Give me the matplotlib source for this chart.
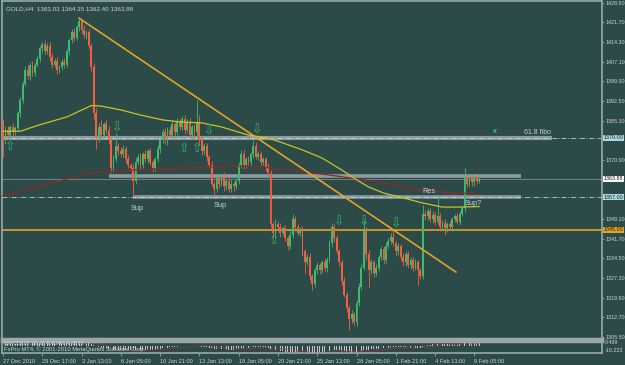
import numpy as np
import matplotlib
matplotlib.use('agg')
from matplotlib import pyplot as plt
from matplotlib.transforms import blended_transform_factory

# GOLD,H4 candles (27 Dec 2010 .. 9 Feb 2011)
first_open = 1385.0
closes = [
    1378, 1382, 1380, 1383, 1381, 1382.5, 1388, 1393, 1399, 1404,
    1402, 1406, 1403, 1406, 1408, 1412, 1413.5, 1411, 1413, 1409,
    1406, 1407.5, 1404, 1405, 1407, 1406, 1411, 1415, 1418, 1416,
    1420, 1422, 1419, 1417, 1418, 1413, 1405, 1388, 1379, 1383,
    1380, 1384, 1382, 1378, 1368, 1371, 1376, 1374, 1373, 1375,
    1371, 1369, 1368, 1363, 1370, 1372, 1369, 1373, 1371, 1374,
    1370, 1368, 1371, 1375, 1378, 1381, 1378, 1382, 1380, 1384,
    1381, 1385, 1383, 1386, 1382, 1385, 1380, 1383, 1381, 1385,
    1378, 1374, 1376, 1372, 1369, 1362, 1360, 1364, 1362, 1365,
    1361, 1363, 1360, 1362, 1361, 1363, 1369, 1373, 1369, 1371,
    1370, 1373, 1376, 1372, 1373, 1370, 1371, 1368, 1366, 1347,
    1344, 1347, 1346, 1344, 1345.5, 1342, 1339, 1343, 1349, 1346,
    1344, 1345, 1337, 1333, 1335, 1328, 1325, 1330, 1332, 1330,
    1333, 1331, 1334, 1340, 1346, 1342, 1337, 1333, 1326, 1321,
    1316, 1312, 1314, 1311, 1318, 1324, 1331, 1345, 1336, 1330,
    1333, 1329, 1331, 1335, 1338, 1334, 1339, 1341, 1342.5, 1340,
    1337, 1339, 1335, 1333, 1336, 1332, 1334, 1331, 1333, 1330,
    1328, 1351, 1350, 1352, 1349, 1350.5, 1348, 1350, 1346, 1347.5,
    1345.5, 1347, 1346, 1349, 1350, 1348, 1351, 1353, 1364, 1362,
    1364.5, 1362.5, 1364, 1363.03, 1363.88]
upper_wick = [
    1.0, 1.5, 1.2, 0.8, 1.5, 1.0, 0.8, 1.2, 1.0, 1.5,
    2.0, 1.0, 1.5, 0.8, 1.2, 1.0, 0.8, 1.5, 1.0, 1.2,
    1.5, 1.0, 1.2, 0.8, 1.0, 1.5, 0.8, 1.0, 1.2, 1.5,
    0.8, 1.2, 1.0, 1.5, 0.8, 1.2, 1.0, 1.5, 2.0, 1.5,
    2.5, 1.0, 1.5, 1.2, 1.0, 1.5, 4.8, 1.0, 1.5, 1.2,
    1.0, 1.5, 0.8, 1.2, 1.5, 1.0, 1.2, 0.8, 1.5, 1.0,
    1.2, 0.8, 1.0, 1.5, 0.8, 1.2, 1.5, 1.0, 1.2, 1.5,
    1.0, 1.2, 0.8, 1.0, 1.5, 1.0, 1.2, 0.8, 1.0, 8.0,
    2.5, 1.5, 1.0, 1.2, 0.8, 1.5, 1.0, 1.2, 0.8, 1.0,
    1.2, 0.8, 1.0, 1.5, 0.8, 1.0, 1.2, 1.5, 2.0, 1.0,
    1.2, 0.8, 2.0, 1.5, 1.0, 1.2, 0.8, 1.0, 1.5, 1.0,
    1.0, 2.0, 1.2, 1.5, 1.0, 1.2, 0.8, 1.5, 2.0, 1.0,
    1.2, 1.0, 1.5, 1.0, 1.2, 1.5, 0.8, 1.0, 1.2, 0.8,
    1.0, 1.5, 1.0, 1.2, 1.5, 1.0, 1.2, 0.8, 1.0, 1.5,
    1.0, 1.2, 1.5, 0.8, 1.0, 1.2, 1.5, 3.6, 1.0, 1.5,
    1.2, 1.0, 1.5, 0.8, 1.2, 1.0, 1.5, 1.0, 1.2, 2.5,
    1.0, 1.2, 0.8, 1.5, 1.0, 1.2, 0.8, 1.0, 1.2, 1.0,
    1.0, 3.0, 1.5, 1.2, 1.0, 1.5, 1.0, 7.0, 1.2, 1.0,
    1.5, 1.0, 1.2, 0.8, 1.0, 1.2, 0.8, 1.0, 4.0, 1.5,
    1.0, 1.2, 0.8, 1.0, 0.47]
lower_wick = [
    6.0, 1.2, 1.5, 1.0, 1.2, 0.8, 1.0, 1.5, 1.2, 1.0,
    1.2, 1.5, 1.0, 1.2, 0.8, 1.0, 1.5, 1.2, 1.0, 1.5,
    1.2, 1.0, 1.5, 1.2, 0.8, 1.2, 1.0, 1.5, 1.0, 1.2,
    1.0, 1.5, 1.2, 1.0, 1.5, 1.2, 1.5, 2.0, 4.0, 1.5,
    1.2, 1.0, 1.5, 1.2, 2.0, 1.5, 1.0, 1.5, 1.2, 1.0,
    1.5, 1.2, 1.0, 6.0, 1.2, 1.0, 1.5, 1.2, 1.0, 1.5,
    1.0, 1.5, 1.2, 1.0, 1.5, 1.0, 1.2, 1.5, 1.0, 1.2,
    1.5, 1.0, 1.2, 1.0, 1.5, 1.0, 1.2, 1.5, 2.0, 2.5,
    1.5, 1.2, 1.0, 1.5, 1.2, 1.0, 3.0, 1.2, 1.5, 1.0,
    1.5, 1.2, 1.0, 1.2, 1.5, 1.0, 1.2, 1.0, 1.5, 1.2,
    1.0, 1.2, 1.5, 1.0, 1.2, 1.5, 1.0, 1.2, 1.0, 1.5,
    1.5, 1.0, 1.2, 1.5, 1.0, 1.2, 1.5, 1.0, 1.2, 1.5,
    1.0, 1.2, 1.5, 4.0, 1.0, 1.5, 2.2, 1.0, 1.2, 1.5,
    1.0, 1.2, 1.5, 1.0, 1.2, 1.5, 1.0, 1.2, 1.5, 1.0,
    1.5, 4.0, 1.5, 1.2, 1.5, 1.0, 1.2, 1.0, 2.0, 6.0,
    1.2, 1.5, 1.0, 1.2, 1.0, 1.5, 1.2, 1.0, 1.2, 1.0,
    1.5, 1.2, 1.0, 1.5, 1.2, 1.0, 1.5, 1.2, 1.0, 5.4,
    1.2, 1.0, 1.5, 1.2, 1.0, 1.5, 1.2, 1.0, 1.5, 1.0,
    2.5, 1.2, 1.0, 1.5, 1.2, 1.0, 1.2, 1.0, 1.5, 1.2,
    1.0, 1.5, 1.2, 1.0, 0.63]

# moving averages (bar index, price) read at points along the lines
ma_fast_bars = [-1, 7, 15, 26, 36, 40, 48, 56, 65, 73, 81, 89, 100, 108, 114,
                122, 130, 138, 144, 149, 155, 163, 171, 179, 187, 194]
ma_fast = [1381.4, 1381.4, 1383.8, 1386.7, 1390.9, 1390.7, 1389.3, 1387.4,
           1385.6, 1384.8, 1384.5, 1383.0, 1380.0, 1378.9, 1377.1, 1374.5,
           1371.5, 1367.1, 1363.5, 1360.8, 1358.6, 1356.8, 1354.9, 1353.4,
           1353.4, 1353.6]
ma_slow_bars = [-1, 12, 26, 36, 44, 53, 74, 93, 105, 117, 130, 142, 154,
                168, 181, 194]
ma_slow = [1357.4, 1360.2, 1363.8, 1366.2, 1366.5, 1367.1, 1367.8, 1368.6,
           1368.2, 1367.1, 1365.6, 1364.1, 1362.5, 1359.9, 1358.8, 1358.2]

# MACD(12,26,9) sub-window
macd_hist = [
    4.5, 4.2, 4.0, 4.1, 3.9, 3.8, 4.3, 5.0, 5.9, 6.8,
    7.2, 7.8, 7.9, 8.1, 8.3, 8.4, 8.4, 8.1, 8.0, 7.6,
    7.0, 6.7, 6.1, 5.7, 5.5, 5.2, 5.4, 5.9, 6.4, 6.5,
    6.9, 7.2, 7.0, 6.6, 6.4, 5.7, 4.5, 2.3, 0.2, -0.9,
    -1.9, -2.3, -2.8, -3.4, -4.5, -5.0, -4.9, -5.0, -5.1, -5.0,
    -5.2, -5.4, -5.6, -6.2, -6.0, -5.7, -5.6, -5.3, -5.1, -4.8,
    -4.8, -4.9, -4.6, -4.1, -3.5, -2.8, -2.4, -1.8, -1.4, -0.8,
    -0.6, -0.1, 0.1, 0.3, 0.6, 0.9, 0.8, 0.9, 0.8, 1.0,
    0.6, -0.1, -0.4, -1.0, -1.7, -2.6, -3.4, -3.7, -4.1, -4.3,
    -4.6, -4.6, -4.9, -4.8, -4.9, -4.7, -4.1, -3.3, -3.1, -2.7,
    -2.5, -2.0, -1.4, -1.4, -1.2, -1.3, -1.2, -1.5, -1.9, -3.6,
    -5.1, -5.9, -6.6, -7.3, -7.6, -8.1, -8.6, -8.6, -8.1, -8.0,
    -8.0, -7.8, -8.4, -9.1, -9.3, -9.9, -10.1, -10.0, -9.7, -9.5,
    -9.1, -8.9, -8.4, -7.4, -6.1, -5.6, -5.6, -5.8, -6.5, -7.3,
    -8.3, -9.3, -9.8, -10.2, -9.9, -9.1, -7.8, -5.6, -5.0, -4.9,
    -4.6, -4.6, -4.3, -3.8, -3.2, -3.1, -2.5, -1.9, -1.4, -1.3,
    -1.3, -1.1, -1.3, -1.6, -1.6, -1.9, -1.9, -2.2, -2.2, -2.5,
    -2.8, -0.9, 0.5, 1.8, 2.5, 3.2, 3.4, 3.8, 3.7, 3.7,
    3.4, 3.4, 3.2, 3.3, 3.4, 3.3, 3.5, 3.8, 5.0, 5.6,
    6.2, 6.5, 6.7, 6.8, 6.7]
signal_bars = [0, 10, 20, 30, 40, 45, 50, 55, 65, 75, 82, 90, 100, 108, 115,
               122, 130, 138, 145, 152, 160, 170, 178, 186, 194]
signal = [5.0, 5.6, 7.8, 6.0, 3.8, 0.5, -3.0, -5.0, -5.0, -1.2, 0.5, -2.5,
          -4.0, -1.6, -4.5, -7.8, -9.5, -7.2, -8.5, -6.5, -2.8, -1.9, 1.5,
          3.4, 4.35]

# drawn objects
trend_bars = [31, 184.5]
trend_prices = [1423.2, 1329.4]
fractal_up = [(3, 1375.6), (74, 1375.2), (79, 1375.2), (110.5, 1341.2)]
fractal_down = [(46.5, 1382.4), (84, 1381.4), (103.5, 1382.0), (137, 1347.7),
                (147, 1347.7), (160, 1347.0)]
notes = [('Sup', 54.6, 1353.0), ('Sup', 88.4, 1353.8), ('Res', 173.5, 1359.0),
         ('Sup?', 191.5, 1354.9)]

price_ticks = [1428.9, 1421.7, 1414.3, 1407.1, 1399.9, 1392.5, 1385.3, 1370.9,
               1349.1, 1341.7, 1334.5, 1327.3, 1319.9, 1312.7, 1305.5]
time_labels = ['27 Dec 2010', '29 Dec 17:00', '3 Jan 13:00', '6 Jan 05:00',
               '10 Jan 21:00', '13 Jan 13:00', '18 Jan 05:00', '20 Jan 21:00',
               '25 Jan 13:00', '28 Jan 05:00', '1 Feb 21:00', '4 Feb 13:00',
               '9 Feb 05:00']

BG = '#2c4a48'
FRAME = '#9aa8aa'
TXT = '#cdd5d5'
BULL = '#3dbb6e'
BEAR = '#f2603f'
ORANGE = '#e3a326'
BAND = '#8c9ba0'

plt.rcParams['font.family'] = ['Liberation Sans', 'DejaVu Sans']
fig = plt.figure(figsize=(6.25, 3.65), dpi=100, facecolor=BG)
ax = fig.add_axes([0.0032, 1 - 339 / 365, 0.96, 338 / 365])
axm = fig.add_axes([0.0032, 1 - 353 / 365, 0.96, 12 / 365])
for a in (ax, axm):
    a.set_facecolor(BG)
    for s in a.spines.values():
        s.set_color(FRAME)
        s.set_linewidth(1.2)
ax.spines['bottom'].set_linewidth(2.5)
axm.spines['top'].set_linewidth(2.5)

x_lo, x_hi = -0.4, 244.0
ax.set_xlim(x_lo, x_hi)
ax.set_ylim(1304.66, 1429.53)
axm.set_xlim(x_lo, x_hi)
axm.set_ylim(-10.223, 8.489)

# candles
c = np.array(closes)
o = np.array([first_open] + closes[:-1])
hi = np.maximum(o, c) + np.array(upper_wick)
lo = np.minimum(o, c) - np.array(lower_wick)
xs = np.arange(len(c))
cols = np.where(c >= o, BULL, BEAR)
ax.vlines(xs, lo, hi, colors=cols, lw=0.6, zorder=3)
ax.bar(xs, np.maximum(np.abs(c - o), 0.35), bottom=np.minimum(o, c),
       width=0.75, color=cols, lw=0, zorder=3)

# horizontal levels and bands
ax.axhline(1345.0, color=ORANGE, lw=1.2, zorder=2)
ax.axhline(1363.88, color='#6f7f80', lw=0.8, zorder=1)
ax.plot([x_lo, 223.5], [1379.0, 1379.0], color=BAND, lw=3.0, zorder=2,
        solid_capstyle='butt')
ax.plot([43, 211], [1364.9, 1364.9], color=BAND, lw=2.6, zorder=2,
        solid_capstyle='butt')
ax.plot([53, 211], [1357.0, 1357.0], color=BAND, lw=2.6, zorder=2,
        solid_capstyle='butt')
for lvl in (1379.0, 1357.0):
    ax.axhline(lvl, color='#c3d3d6', lw=0.6, ls=(0, (6, 2, 1, 2)), zorder=2)

# moving averages
ax.plot(ma_slow_bars, ma_slow, color='#8e2a26', lw=0.9, zorder=4)
ax.plot(ma_fast_bars, ma_fast, color='#c8c420', lw=0.9, zorder=4)

# trendline
ax.plot(trend_bars, trend_prices, color=ORANGE, lw=1.2, zorder=5)

# fractal arrows
for bx, py in fractal_up:
    ax.text(bx, py, '\u21e7', color='#35b56a', fontsize=9, ha='center',
            va='center', zorder=6, family='DejaVu Sans')
for bx, py in fractal_down:
    ax.text(bx, py, '\u21e9', color='#35b56a', fontsize=9, ha='center',
            va='center', zorder=6, family='DejaVu Sans')

for label, bx, py in notes:
    ax.text(bx, py, label, color=TXT, fontsize=5.3, ha='center', va='center',
            zorder=6)
ax.text(200.4, 1381.3, 'x', color='#3fc87c', fontsize=5, ha='center',
        va='center', fontweight='bold')
ax.text(212.2, 1380.8, '61.8 fibo', color=TXT, fontsize=5, ha='left',
        va='center')
ax.text(0.006, 0.985, 'GOLD,H4  1363.03 1364.35 1362.40 1363.88',
        transform=ax.transAxes, color=TXT, fontsize=4.5, ha='left', va='top')

# right price scale
ax.yaxis.tick_right()
ax.set_yticks(price_ticks)
ax.set_yticklabels(['%.2f' % p for p in price_ticks])
ax.tick_params(axis='y', colors=FRAME, labelcolor=TXT, labelsize=3.9,
               length=1.5, width=0.6, pad=0.8)
ax.set_xticks([])
tr = blended_transform_factory(ax.transAxes, ax.transData)
for val, fc in ((1379.0, '#a9d9e2'), (1357.0, '#a9d9e2'), (1345.0, ORANGE),
                (1363.88, '#ffffff')):
    ax.text(1.003, val, '%.2f' % val, transform=tr, fontsize=3.9,
            color='#1a1a1a', ha='left', va='center',
            bbox=dict(boxstyle='square,pad=0.1', fc=fc, ec='none'))

# MACD window
axm.bar(xs, macd_hist, width=0.35, color='#c4c4c4', lw=0)
axm.plot(signal_bars, signal, color='#d82a2a', lw=0.8, ls=(0, (1, 1.5)))
axm.set_yticks([])
axm.text(0.004, 0.78, 'MACD(12,26,9) 6.6345 4.3512', transform=axm.transAxes,
         color=TXT, fontsize=4.2, ha='left', va='center')
axm.text(0.004, 0.3, 'FxPro MT4, \u00a9 2001-2010 MetaQuotes Software Corp.',
         transform=axm.transAxes, color=TXT, fontsize=4.2, ha='left',
         va='center')
axm.text(1.004, 0.85, '8.489', transform=axm.transAxes, color=TXT,
         fontsize=3.9, ha='left', va='center')
axm.text(1.004, 0.2, '-10.223', transform=axm.transAxes, color=TXT,
         fontsize=3.9, ha='left', va='center')

tick_bars = [16 * k for k in range(len(time_labels))]
axm.set_xticks(tick_bars)
axm.set_xticklabels(time_labels)
axm.tick_params(axis='x', colors=FRAME, labelcolor=TXT, labelsize=4.1,
                length=2.5, width=0.6, pad=1.5)
for t in axm.get_xticklabels():
    t.set_horizontalalignment('left')

fig.savefig('out.png', dpi=100, facecolor=BG)
